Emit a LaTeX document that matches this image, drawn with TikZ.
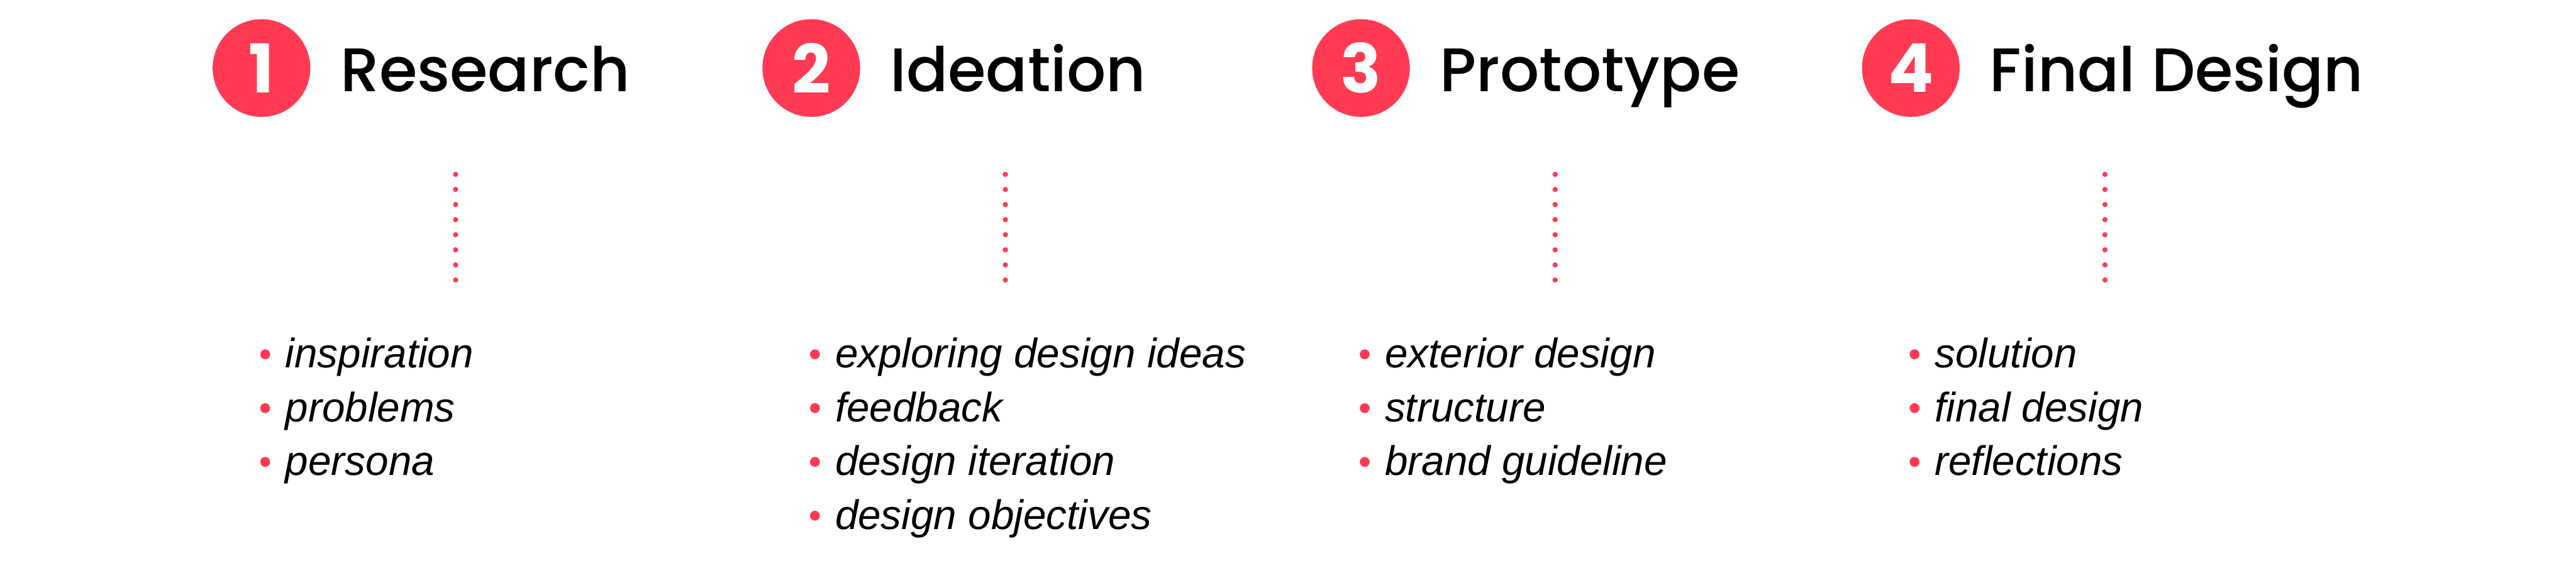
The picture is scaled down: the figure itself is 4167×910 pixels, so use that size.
\documentclass[tikz,border=0pt]{standalone}
\usepackage{fontspec}
\setmainfont{Liberation Sans}
\newfontfamily\popfont{Poppins}[UprightFont=* Medium,BoldFont=* Bold]
\definecolor{stagered}{RGB}{255,58,82}
\tikzset{
  stagenum/.style={circle,fill=stagered,minimum size=15.8mm,inner sep=0pt,
    text=white,font=\popfont\bfseries\fontsize{31}{36}\selectfont},
  stagetitle/.style={anchor=base west,inner sep=0pt,
    font=\popfont\fontsize{28.3}{34}\selectfont},
  itemtext/.style={anchor=base west,inner sep=0pt,
    font=\itshape\fontsize{19}{22}\selectfont}
}
\newcommand{\stagehead}[4]{%
  \node[stagenum] (#1num) at (#2,110) {#3};
  \node[stagetitle] (#1title) at (#2+127,148) {#4};
  % dotted stem under the heading
  \foreach \k in {0,...,7}
    \fill[stagered] (#2+314,282+24.4*\k) circle (0.42mm);
}
\newcommand{\stageitem}[4]{%
  \fill[stagered] (#2+6,573+87*#3) circle (0.8mm);
  \node[itemtext] (#1) at (#2+38,595+87*#3) {#4};
}

\begin{document}
\begin{tikzpicture}[x=0.1mm,y=-0.1mm]
  \useasboundingbox (0,0) rectangle (4167,910);
  \stagehead{res}{423}{1}{Research}
  \stagehead{ide}{1312.3}{2}{Ideation}
  \stagehead{pro}{2201.6}{3}{Prototype}
  \stagehead{fin}{3091}{4}{Final Design}
  \stageitem{resa}{423}{0}{inspiration}
  \stageitem{resb}{423}{1}{problems}
  \stageitem{resc}{423}{2}{persona}
  \stageitem{idea}{1312.3}{0}{exploring design ideas}
  \stageitem{ideb}{1312.3}{1}{feedback}
  \stageitem{idec}{1312.3}{2}{design iteration}
  \stageitem{ided}{1312.3}{3}{design objectives}
  \stageitem{proa}{2201.6}{0}{exterior design}
  \stageitem{prob}{2201.6}{1}{structure}
  \stageitem{proc}{2201.6}{2}{brand guideline}
  \stageitem{fina}{3091}{0}{solution}
  \stageitem{finb}{3091}{1}{final design}
  \stageitem{finc}{3091}{2}{reflections}
\end{tikzpicture}
\end{document}
